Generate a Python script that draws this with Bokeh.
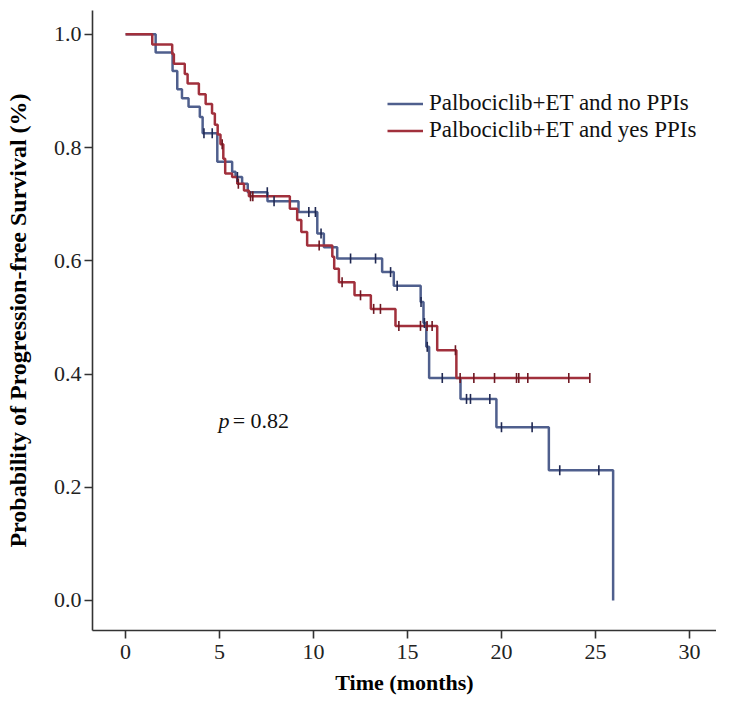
import numpy as np
from bokeh.plotting import figure
from bokeh.models import Range1d, Legend, LegendItem, FixedTicker, NumeralTickFormatter, ColumnDataSource
from bokeh.embed import file_html
from bokeh.resources import INLINE
from bokeh.core.properties import value

# ---- data ----
blue_t = [0, 1.6, 2.5, 2.75, 3.0, 3.35, 3.95, 4.1, 4.88, 5.67, 5.85, 6.2, 6.5, 7.55, 9.2,
          10.2, 10.55, 11.26, 13.65, 14.27, 15.7, 15.85, 16.0, 16.15, 17.82, 19.73, 22.52, 25.94]
blue_s = [1.0, 0.968, 0.935, 0.903, 0.887, 0.872, 0.854, 0.825, 0.775, 0.757, 0.748, 0.736, 0.721, 0.705, 0.686,
          0.648, 0.624, 0.604, 0.580, 0.556, 0.527, 0.490, 0.448, 0.393, 0.356, 0.306, 0.230, 0.0]
blue_cens = [4.17, 4.61, 5.95, 7.54, 7.9, 9.75, 10.1, 10.4, 11.97, 13.3, 14.1, 14.45, 15.72, 15.9,
             16.05, 16.85, 18.14, 18.35, 19.38, 20.0, 21.63, 23.1, 25.18]

red_t = [0, 1.42, 2.48, 2.57, 3.15, 3.3, 3.9, 4.26, 4.6, 4.75, 4.9, 5.05, 5.2, 5.3, 5.67, 5.94, 6.3, 6.56,
         8.74, 9.13, 9.35, 9.66, 11.0, 11.1, 11.35, 12.18, 13.05, 14.36, 16.58, 17.6, 24.7]
red_s = [1.0, 0.982, 0.965, 0.948, 0.93, 0.913, 0.894, 0.877, 0.86, 0.84, 0.823, 0.806, 0.78, 0.754, 0.748,
         0.736, 0.724, 0.714, 0.692, 0.672, 0.651, 0.627, 0.607, 0.586, 0.562, 0.539, 0.515, 0.485, 0.442,
         0.393, 0.393]
red_cens = [5.14, 6.0, 6.65, 6.77, 10.3, 11.52, 12.5, 13.2, 13.56, 14.54, 15.69, 16.04, 16.31, 17.55,
            17.8, 18.53, 19.63, 20.8, 20.92, 21.4, 23.58, 24.7]

labels = ["Palbociclib+ET and no PPIs", "Palbociclib+ET and yes PPIs"]
x_ticks = [0, 5, 10, 15, 20, 25, 30]
y_ticks = [0.0, 0.2, 0.4, 0.6, 0.8, 1.0]
p_text = "0.82"

BLUE = "#4f5f8d"
BLUE_DARK = "#1f2852"
RED = "#a1303c"
RED_DARK = "#6e1822"
SERIF = "Liberation Serif"


def step_value(ts, ss, c):
    i = np.searchsorted(np.asarray(ts), c, side="right") - 1
    return float(np.asarray(ss)[i])


p = figure(width=716, height=700, output_backend="svg", toolbar_location=None,
           x_range=Range1d(-1.76, 31.44), y_range=Range1d(-0.053, 1.042),
           min_border_left=92, min_border_right=0, min_border_top=10, min_border_bottom=70)
p.outline_line_color = None
p.xgrid.visible = False
p.ygrid.visible = False
p.background_fill_color = "white"

r_blue = p.step(blue_t, blue_s, mode="after", line_color=BLUE, line_width=2.5)
r_red = p.step(red_t, red_s, mode="after", line_color=RED, line_width=2.5)

bc = ColumnDataSource(dict(x=blue_cens, y=[step_value(blue_t, blue_s, c) for c in blue_cens]))
rc = ColumnDataSource(dict(x=red_cens, y=[step_value(red_t, red_s, c) for c in red_cens]))
p.scatter("x", "y", source=bc, marker="dash", angle=np.pi / 2, size=10, line_color=BLUE_DARK, line_width=1.6)
p.scatter("x", "y", source=rc, marker="dash", angle=np.pi / 2, size=10, line_color=RED_DARK, line_width=1.6)

# p-value annotation
p.text(x=[4.95], y=[0.318], text=["p"], text_font=value(SERIF), text_font_style="italic",
       text_font_size="22px", text_baseline="middle", text_align="left", text_color="#111111")
p.text(x=[5.7], y=[0.318], text=["= " + p_text], text_font=value(SERIF),
       text_font_size="22px", text_baseline="middle", text_align="left", text_color="#111111")

# axes
for ax in (p.xaxis, p.yaxis):
    ax.axis_line_color = "#333333"
    ax.axis_line_width = 1.6
    ax.major_tick_line_color = "#333333"
    ax.major_tick_line_width = 1.6
    ax.major_tick_out = 8
    ax.major_tick_in = 0
    ax.minor_tick_line_color = None
    ax.major_label_text_font = SERIF
    ax.major_label_text_font_size = "22px"
    ax.major_label_text_color = "#222222"
    ax.axis_label_text_font = SERIF
    ax.axis_label_text_font_style = "bold"
    ax.axis_label_text_color = "black"

p.xaxis.axis_label_text_font_size = "22px"
p.yaxis.axis_label_text_font_size = "24px"
p.xaxis.ticker = FixedTicker(ticks=x_ticks)
p.yaxis.ticker = FixedTicker(ticks=y_ticks)
p.yaxis.formatter = NumeralTickFormatter(format="0.0")
p.xaxis.axis_label = "Time (months)"
p.yaxis.axis_label = "Probability of Progression-free Survival (%)"
p.xaxis.major_label_standoff = 6
p.xaxis.axis_label_standoff = 8
p.yaxis.major_label_standoff = 3
p.yaxis.axis_label_standoff = 20

legend = Legend(items=[LegendItem(label=labels[0], renderers=[r_blue]),
                       LegendItem(label=labels[1], renderers=[r_red])],
                location=(295, 487))
legend.border_line_color = None
legend.background_fill_alpha = 0
legend.padding = 0
legend.margin = 0
legend.spacing = 1
legend.glyph_width = 36
legend.glyph_height = 25
legend.label_height = 25
legend.label_standoff = 6
legend.label_text_font = SERIF
legend.label_text_font_size = "23px"
legend.label_text_color = "#111111"
p.add_layout(legend)

open("out.html", "w").write(file_html(p, INLINE))
